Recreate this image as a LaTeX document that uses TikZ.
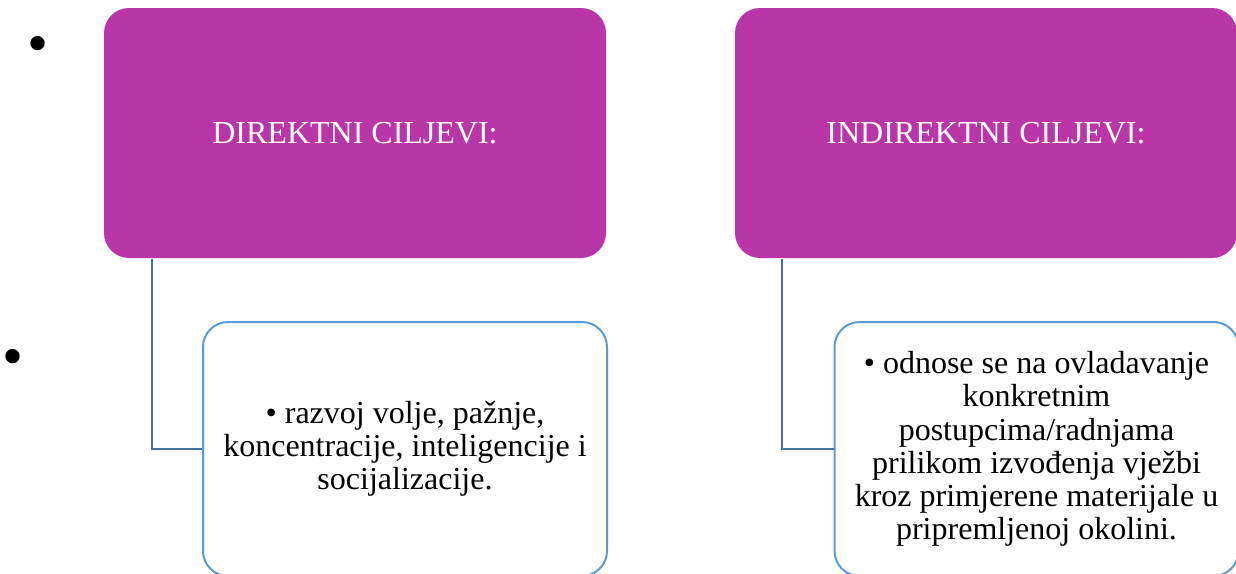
\documentclass[tikz,border=0pt]{standalone}
\usepackage{fontspec}
\setmainfont{Liberation Serif}
\usetikzlibrary{shapes,positioning}

\definecolor{headfill}{RGB}{186,54,168}
\definecolor{subline}{RGB}{91,155,213}
\definecolor{linkline}{RGB}{65,113,156}

\begin{document}
\begin{tikzpicture}[x=0.5pt,y=-0.5pt,auto,node distance=315.5pt,
                    semithick]
  \tikzstyle{every node}=[font=\fontsize{16}{16.6}\selectfont,inner sep=0pt]
  \tikzstyle{head}=[rectangle,rounded corners=12.5pt,fill=headfill,draw=none,
                    text=white,minimum width=251pt,minimum height=125pt]
  \tikzstyle{sub}=[rectangle,rounded corners=12.5pt,fill=white,draw=subline,
                   line width=1pt,minimum width=202pt,minimum height=127pt,
                   align=center]
  \tikzstyle{link}=[draw=linkline,line width=1pt]
  \tikzstyle{dot}=[anchor=base,font=\fontsize{30}{30}\selectfont]

  \useasboundingbox (0,0) rectangle (1236,573);

  \node[dot] (DOT1) at (38,63)  {•};
  \node[dot] (DOT2) at (13,376) {•};

  \node[head] (DIR)                   at (355,133) {DIREKTNI CILJEVI:};
  \node[head] (IND) [right of=DIR]                 {INDIREKTNI CILJEVI:};

  \node[sub]  (DIRsub)                at (405,449)
              {• razvoj volje, pažnje,\\
               koncentracije, inteligencije i\\
               socijalizacije.};
  \node[sub]  (INDsub)                at (1036.5,449)
              {• odnose se na ovladavanje\\
               konkretnim\\
               postupcima/radnjama\\
               prilikom izvođenja vježbi\\
               kroz primjerene materijale u\\
               pripremljenoj okolini.};

  \draw[link] ([xshift=24.5pt]DIR.south west) |- (DIRsub.west);
  \draw[link] ([xshift=24pt]IND.south west)   |- (INDsub.west);
\end{tikzpicture}
\end{document}
